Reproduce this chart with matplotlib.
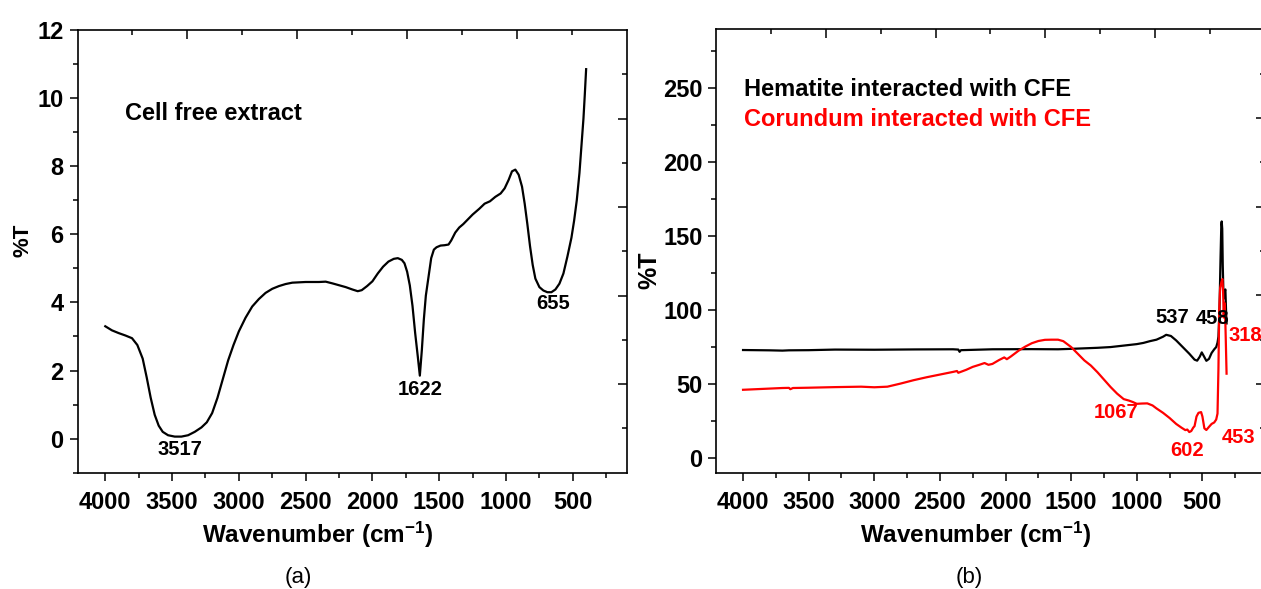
import matplotlib
matplotlib.use("Agg")
import matplotlib.pyplot as plt
from matplotlib.ticker import MultipleLocator, FixedLocator

plt.rcParams['font.family'] = ['Liberation Sans', 'DejaVu Sans']
plt.rcParams['mathtext.fontset'] = 'custom'
plt.rcParams['mathtext.rm'] = 'Liberation Sans'
plt.rcParams['mathtext.bf'] = 'Liberation Sans:bold'
plt.rcParams['mathtext.default'] = 'regular'

# ---------------- data: panel (a) Cell free extract ----------------
cfe_wn = [4000, 3950, 3900, 3850, 3800, 3760, 3720, 3690, 3660, 3630, 3600, 3570,
          3530, 3480, 3430, 3380, 3330, 3280, 3240, 3200, 3160, 3120, 3080, 3040,
          3000, 2950, 2900, 2850, 2800, 2750, 2700, 2650, 2600, 2500, 2400, 2350,
          2300, 2200, 2150, 2110, 2080, 2040, 2000, 1960, 1920, 1880, 1840, 1810,
          1780, 1760, 1740, 1720, 1700, 1680, 1660, 1645, 1630, 1615, 1600, 1580,
          1560, 1540, 1520, 1490, 1460, 1430, 1410, 1380, 1350, 1320, 1290, 1250,
          1200, 1160, 1120, 1080, 1040, 1010, 980, 955, 930, 905, 880, 860, 840,
          820, 800, 780, 750, 720, 690, 660, 630, 600, 570, 540, 510, 490, 470,
          450, 435, 420, 410, 400]
cfe_t = [3.30, 3.18, 3.10, 3.03, 2.95, 2.75, 2.35, 1.80, 1.20, 0.70, 0.38, 0.20,
         0.10, 0.06, 0.06, 0.10, 0.20, 0.33, 0.48, 0.75, 1.20, 1.75, 2.30, 2.75,
         3.15, 3.55, 3.88, 4.10, 4.28, 4.40, 4.48, 4.54, 4.58, 4.60, 4.60, 4.61,
         4.56, 4.45, 4.38, 4.33, 4.36, 4.48, 4.62, 4.85, 5.05, 5.20, 5.28, 5.30,
         5.25, 5.15, 4.90, 4.50, 3.90, 3.10, 2.40, 1.85, 2.60, 3.50, 4.20, 4.75,
         5.30, 5.55, 5.62, 5.67, 5.68, 5.70, 5.82, 6.05, 6.20, 6.30, 6.42, 6.58,
         6.75, 6.90, 6.97, 7.10, 7.20, 7.35, 7.60, 7.85, 7.90, 7.75, 7.40, 6.90,
         6.30, 5.65, 5.10, 4.70, 4.45, 4.35, 4.30, 4.30, 4.38, 4.55, 4.85, 5.35,
         5.90, 6.40, 7.00, 7.80, 8.60, 9.40, 10.10, 10.85]

# ---------------- data: panel (b) ----------------
hem_wn = [4000, 3900, 3800, 3700, 3650, 3500, 3300, 3000, 2700, 2400, 2360, 2350,
          2340, 2100, 1800, 1600, 1500, 1300, 1200, 1100, 1000, 950, 900, 850,
          800, 776, 740, 700, 650, 600, 560, 540, 520, 505, 490, 470, 450, 430,
          410, 395, 385, 378, 370, 362, 356, 353, 349, 345, 340, 335, 330, 325,
          320, 316]
hem_t = [73.0, 72.9, 72.8, 72.6, 72.8, 72.9, 73.3, 73.2, 73.4, 73.5, 73.3, 71.8,
         72.9, 73.5, 73.6, 73.5, 73.8, 74.5, 75.0, 76.0, 77.0, 77.8, 79.0, 80.0,
         82.0, 83.3, 82.5, 79.5, 75.0, 70.5, 66.5, 65.8, 68.5, 71.4, 69.0, 65.7,
         67.0, 71.0, 73.5, 75.0, 78.0, 82.0, 100.0, 135.0, 158.0, 160.0, 155.0,
         130.0, 112.0, 108.0, 113.0, 114.0, 100.0, 91.0]

cor_wn = [4000, 3900, 3800, 3700, 3650, 3640, 3620, 3500, 3300, 3100, 3000, 2900,
          2800, 2700, 2600, 2500, 2400, 2370, 2360, 2300, 2250, 2200, 2160, 2130,
          2100, 2050, 2010, 1990, 1960, 1900, 1850, 1800, 1750, 1700, 1650, 1600,
          1560, 1500, 1450, 1400, 1350, 1300, 1250, 1200, 1150, 1100, 1060, 1030,
          1000, 960, 920, 880, 850, 800, 750, 700, 660, 630, 615, 600, 585, 570,
          560, 545, 530, 510, 500, 485, 470, 450, 430, 410, 395, 385, 378, 372,
          365, 355, 348, 342, 338, 333, 327, 322, 316]
cor_t = [46.1, 46.5, 46.9, 47.3, 47.4, 46.5, 47.3, 47.5, 47.9, 48.2, 47.8, 48.2,
         50.3, 52.6, 54.6, 56.4, 58.2, 58.8, 57.6, 59.6, 61.6, 63.0, 64.2, 63.0,
         63.6, 66.2, 68.0, 66.8, 68.6, 72.6, 75.3, 77.6, 79.1, 79.9, 80.0, 80.0,
         79.0, 75.0, 70.5, 66.0, 62.5, 58.0, 53.0, 48.0, 43.5, 39.8, 38.8, 37.8,
         36.6, 36.8, 36.9, 35.5, 33.5, 30.5, 27.0, 23.0, 20.5, 18.8, 19.2, 17.5,
         18.2, 20.5, 21.5, 28.0, 30.5, 31.0, 28.0, 20.0, 18.9, 21.0, 23.0, 24.0,
         26.0, 30.0, 60.0, 100.0, 115.0, 119.0, 121.0, 112.0, 95.0, 105.0, 98.0,
         80.0, 57.0]

a_peak_labels = ["3517", "1622", "655"]
b_black_labels = ["537", "458"]
b_red_labels = ["318", "1067", "602", "453"]
a_title = "Cell free extract"
b_series = ["Hematite interacted with CFE", "Corundum interacted with CFE"]
xticks = [4000, 3500, 3000, 2500, 2000, 1500, 1000, 500]

# ---------------- figure ----------------
W, H = 1261, 589
fig = plt.figure(figsize=(W / 100, H / 100), dpi=100)

TICK_FS = 17
LAB_FS = 17.5
ANN_FS = 14.5


def frac(x0, y0, x1, y1):
    return [x0 / W, 1 - y1 / H, (x1 - x0) / W, (y1 - y0) / H]


def style(ax, pos):
    for s in ax.spines.values():
        s.set_linewidth(1.2)
    ax.tick_params(which='major', direction='out', length=6, width=1.1,
                   labelsize=TICK_FS, top=False, right=False, pad=4)
    ax.tick_params(which='minor', direction='out', length=3.6, width=1.1,
                   top=False, right=False)
    for lab in ax.get_xticklabels() + ax.get_yticklabels():
        lab.set_fontweight('bold')
    ax.tick_params(axis='x', pad=7)
    # mirrored (unlabelled) ticks on top and right
    ov = fig.add_axes(pos, facecolor='none')
    ov.set_xlim(0, 1)
    ov.set_ylim(0, 1)
    for s in ov.spines.values():
        s.set_visible(False)
    ov.xaxis.tick_top()
    ov.yaxis.tick_right()
    ov.xaxis.set_major_locator(FixedLocator([0.2, 0.4, 0.6, 0.8]))
    ov.xaxis.set_minor_locator(FixedLocator([0.1, 0.3, 0.5, 0.7, 0.9]))
    ov.yaxis.set_major_locator(FixedLocator([0.2, 0.4, 0.6, 0.8]))
    ov.yaxis.set_minor_locator(FixedLocator([0.1, 0.3, 0.5, 0.7, 0.9]))
    ov.tick_params(which='major', direction='in', length=6.5, width=1.1,
                   labeltop=False, labelright=False, labelbottom=False, labelleft=False)
    ov.tick_params(which='minor', direction='in', length=3.6, width=1.1)
    return ov


# ---- panel (a)
pos_a = frac(77.5, 30, 627, 472.7)
axa = fig.add_axes(pos_a)
axa.plot(cfe_wn, cfe_t, color='black', lw=1.6)
axa.set_xlim(4208, 94)
axa.set_ylim(-1, 12)
axa.set_xticks(xticks)
axa.set_yticks([0, 2, 4, 6, 8, 10, 12])
axa.xaxis.set_minor_locator(MultipleLocator(250))
axa.yaxis.set_minor_locator(MultipleLocator(1))
style(axa, pos_a)

axa.text(3850, 9.55, a_title, fontsize=17, fontweight='bold', ha='left', va='center')
for lab, (x, y) in zip(a_peak_labels, [(3444, -0.33), (1642, 1.43), (649, 3.97)]):
    axa.text(x, y, lab, fontsize=ANN_FS, fontweight='bold', ha='center', va='center')

# ---- panel (b)
pos_b = frac(716.4, 29.3, 1264.5, 472.7)
axb = fig.add_axes(pos_b)
axb.plot(cor_wn, cor_t, color='#ff0000', lw=1.6, zorder=2)
axb.plot(hem_wn, hem_t, color='black', lw=1.6, zorder=1)
axb.set_xlim(4203, 27)
axb.set_ylim(-10, 290)
axb.set_xticks(xticks)
axb.set_yticks([0, 50, 100, 150, 200, 250])
axb.xaxis.set_minor_locator(MultipleLocator(250))
axb.yaxis.set_minor_locator(MultipleLocator(25))
style(axb, pos_b)

axb.text(3992, 249.3, b_series[0], fontsize=17, fontweight='bold', color='black',
         ha='left', va='center')
axb.text(3992, 229.1, b_series[1], fontsize=17, fontweight='bold', color='#ff0000',
         ha='left', va='center')
for lab, (x, y) in zip(b_black_labels, [(733, 95), (423, 94.3)]):
    axb.text(x, y, lab, fontsize=ANN_FS, fontweight='bold', color='black',
             ha='center', va='center')
red_pos = [(303, 82.6, 'left'), (1160, 30.8, 'center'), (614, 4.9, 'center'),
           (224, 13.9, 'center')]
for lab, (x, y, ha) in zip(b_red_labels, red_pos):
    axb.text(x, y, lab, fontsize=ANN_FS, fontweight='bold', color='#ff0000',
             ha=ha, va='center')

# ---- axis labels and panel captions
xl = r'Wavenumber (cm$^{-1}$)'
fig.text(318 / W, 1 - 535 / H, xl, fontsize=LAB_FS, fontweight='bold',
         ha='center', va='center')
fig.text(976 / W, 1 - 535 / H, xl, fontsize=LAB_FS, fontweight='bold',
         ha='center', va='center')
fig.text(23 / W, 1 - 240 / H, '%T', fontsize=16, fontweight='bold',
         rotation=90, ha='center', va='center')
fig.text(649 / W, 1 - 270 / H, '%T', fontsize=18, fontweight='bold',
         rotation=90, ha='center', va='center')
fig.text(298 / W, 1 - 577 / H, '(a)', fontsize=16, ha='center', va='center')
fig.text(969 / W, 1 - 577 / H, '(b)', fontsize=16, ha='center', va='center')

fig.savefig('out.png', dpi=100)
